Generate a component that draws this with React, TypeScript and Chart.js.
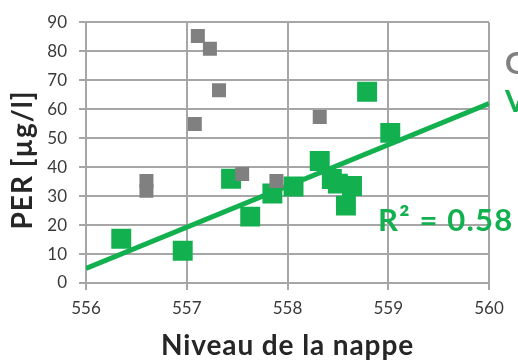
import React, { useEffect, useRef } from "react";
import { Chart, registerables } from "chart.js";

Chart.register(...registerables);

// Water-table level (m) vs PER concentration (µg/l)
const grayX = [557.11, 557.23, 557.32, 557.08, 556.6, 556.6, 557.55, 558.32, 557.89];
const grayY = [85.2, 80.8, 66.5, 54.9, 35.2, 31.8, 37.6, 57.3, 35.2];

const greenX = [556.35, 556.96, 557.44, 557.63, 557.85, 558.06, 558.32, 558.44, 558.5, 558.64, 558.58, 558.79, 559.02];
const greenY = [15.3, 11.1, 36.0, 22.9, 30.9, 33.3, 42.1, 35.9, 34.3, 33.5, 26.7, 66.0, 51.8];

// Linear trend of the green series
const trendX = [556, 560];
const trendY = [5.0, 61.9];

const rSquaredLabel = "R² = 0.58";
const xTitle = "Niveau de la nappe";
const yTitle = "PER [µg/l]";
const legendLabels = ["G", "V"];

const GREEN = "#12b04f";
const GRAY = "#808080";
const FONT = "Lato";

const toPoints = (xs: number[], ys: number[]) => xs.map((x, i) => ({ x, y: ys[i] }));

const annotations = {
  id: "annotations",
  afterDraw(chart: Chart) {
    const { ctx, chartArea } = chart;
    const c = ctx as any;

    ctx.save();
    ctx.font = `bold 28px ${FONT}`;
    c.letterSpacing = "0.9px";
    ctx.fillStyle = "#262626";
    ctx.textAlign = "center";
    ctx.textBaseline = "alphabetic";
    ctx.fillText(xTitle, (chartArea.left + chartArea.right) / 2, 355);

    c.letterSpacing = "1px";
    ctx.translate(32, 160);
    ctx.rotate(-Math.PI / 2);
    ctx.fillText(yTitle, 0, 0);
    ctx.restore();

    ctx.save();
    ctx.font = `bold 31px ${FONT}`;
    ctx.textAlign = "left";
    ctx.textBaseline = "alphabetic";
    c.letterSpacing = "1.2px";
    ctx.fillStyle = GREEN;
    ctx.fillText(rSquaredLabel, 378, 231);
    c.letterSpacing = "0px";
    ctx.font = `bold 30px ${FONT}`;
    ctx.fillStyle = GRAY;
    ctx.fillText(legendLabels[0], 505, 74);
    ctx.fillStyle = GREEN;
    ctx.fillText(legendLabels[1], 505, 112);
    ctx.restore();
  },
};

export default function App() {
  const canvasRef = useRef<HTMLCanvasElement | null>(null);

  useEffect(() => {
    if (!canvasRef.current) return;
    const chart = new Chart(canvasRef.current, {
      type: "scatter",
      data: {
        datasets: [
          {
            label: "gray",
            data: toPoints(grayX, grayY),
            pointStyle: "rect",
            pointRadius: 9.9,
            pointHoverRadius: 9.9,
            backgroundColor: GRAY,
            borderWidth: 0,
            order: 0,
          },
          {
            type: "line",
            label: "trend",
            data: toPoints(trendX, trendY),
            borderColor: GREEN,
            borderWidth: 5,
            pointRadius: 0,
            fill: false,
            order: 1,
          },
          {
            label: "green",
            data: toPoints(greenX, greenY),
            pointStyle: "rect",
            pointRadius: 14.1,
            pointHoverRadius: 14.1,
            backgroundColor: GREEN,
            borderWidth: 0,
            order: 2,
          },
        ],
      },
      options: {
        animation: false,
        responsive: false,
        layout: { padding: { left: 0, right: 29, top: 20, bottom: 0 } },
        plugins: { legend: { display: false }, tooltip: { enabled: false } },
        scales: {
          x: {
            type: "linear",
            min: 556,
            max: 560,
            ticks: { stepSize: 1, color: "#3a3a3a", font: { family: FONT, size: 17 }, padding: 8 },
            grid: { color: "#a6a6a6", lineWidth: 2, tickLength: 7 },
            border: { color: "#a6a6a6", width: 2 },
            afterFit: (scale: any) => {
              scale.height = 78;
            },
          },
          y: {
            type: "linear",
            min: 0,
            max: 90,
            ticks: { stepSize: 10, color: "#3a3a3a", font: { family: FONT, size: 17 }, padding: 12 },
            grid: { color: "#a6a6a6", lineWidth: 2, tickLength: 7 },
            border: { color: "#a6a6a6", width: 2 },
            afterFit: (scale: any) => {
              scale.width = 86;
            },
          },
        },
      },
      plugins: [annotations],
    });
    return () => chart.destroy();
  }, []);

  return (
    <div style={{ position: "fixed", left: 0, top: 0, width: 518, height: 361, background: "#fff", overflow: "hidden" }}>
      <canvas ref={canvasRef} width={518} height={361} />
    </div>
  );
}
